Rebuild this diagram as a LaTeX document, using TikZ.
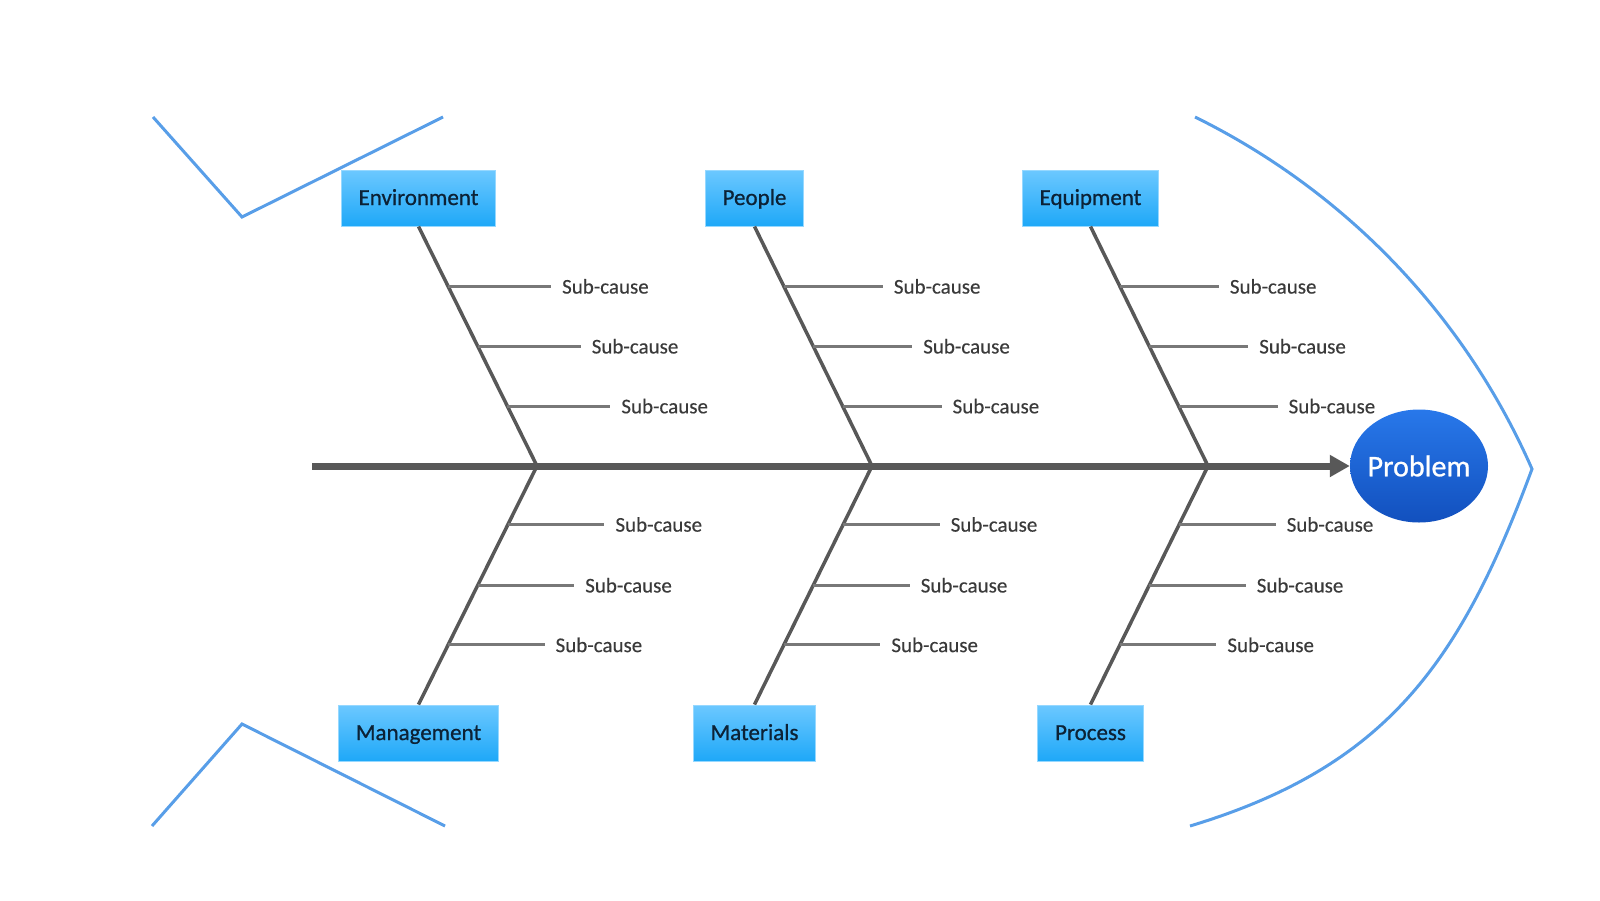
\documentclass[tikz,border=0pt]{standalone}
\usepackage{fontspec}
\setmainfont{Carlito}
\newfontfamily\catfont{Carlito}[FakeBold=0.8]
\newfontfamily\subfont{Carlito}[FakeBold=0.3]
\usetikzlibrary{arrows.meta,calc,shapes.geometric}
\definecolor{fishblue}{RGB}{88,158,232}
\definecolor{bonegray}{RGB}{88,88,88}
\definecolor{subgray}{RGB}{120,120,120}
\definecolor{subtext}{RGB}{58,58,58}
\definecolor{boxtop}{RGB}{108,200,255}
\definecolor{boxbot}{RGB}{30,168,248}
\definecolor{boxedge}{RGB}{150,216,255}
\definecolor{cattext}{RGB}{12,34,54}
\definecolor{probtop}{RGB}{40,120,234}
\definecolor{probbot}{RGB}{18,80,190}
\begin{document}
\begin{tikzpicture}[x=1pt,y=-1pt,
  fish/.style={draw=fishblue,line width=3pt,line join=miter},
  cat/.style={rectangle,draw=boxedge,line width=1pt,top color=boxtop,bottom color=boxbot,
    minimum height=56pt,inner xsep=17.5pt,text height=16pt,text depth=2pt,
    text=cattext,font=\catfont\fontsize{23}{26}\selectfont},
  probnode/.style={ellipse,top color=probtop,bottom color=probbot,minimum width=138pt,
    minimum height=113pt,inner sep=0pt},
  probtext/.style={text=white,inner sep=0pt,font=\catfont\fontsize{30}{34}\selectfont},
  spine/.style={draw=bonegray,line width=7pt,-{Triangle[length=20pt,width=21pt]}},
  bone/.style={draw=bonegray,line width=3.5pt},
  subline/.style={draw=subgray,line width=3pt},
  subtxt/.style={anchor=west,inner sep=0pt,outer xsep=11pt,text=subtext,
    font=\subfont\fontsize{21}{24}\selectfont}]
\useasboundingbox (0,0) rectangle (1600,900);

% fish outline
\draw[fish] (153,117) -- (242,217) -- (443,117);
\draw[fish] (152,826) -- (242,724) -- (445,826);
\draw[fish] (1195,117) .. controls (1345.2,191.1) and (1464.3,314.8) .. (1532,469)
  .. controls (1460.25,662.7) and (1386.8,766.55) .. (1190,826);

% head
\node[probnode,label={[probtext]center:Problem}] (prob) at (1419,466) {};

% spine
\coordinate (tail) at (312,466);
\coordinate (A1) at (537,466);
\coordinate (A2) at (872,466);
\coordinate (A3) at (1208,466);
\draw[spine] (tail) -- (prob.west);

% category boxes
\node[cat] (env) at (418.5,198) {Environment};
\node[cat] (peo) at (754.5,198) {People};
\node[cat] (equ) at (1090.5,198) {Equipment};
\node[cat] (mgm) at (418.5,733) {Management};
\node[cat] (mat) at (754.5,733) {Materials};
\node[cat] (pro) at (1090.5,733) {Process};

% bones
\draw[bone] (env.south) -- (A1) -- (mgm.north);
\draw[bone] (peo.south) -- (A2) -- (mat.north);
\draw[bone] (equ.south) -- (A3) -- (pro.north);

% upper sub-causes
\foreach \b/\t/\a/\len in {e/env/A1/103, p/peo/A2/99, q/equ/A3/99} {
  \foreach \i/\f in {1/0.25,2/0.5,3/0.75} {
    \coordinate (\b u\i) at ($(\t.south)!\f!(\a)$);
    \node[subtxt] (\b ut\i) at ($(\b u\i)+(\len,0)$) {Sub-cause};
    \draw[subline] (\b u\i) -- (\b ut\i.west);
  }
}
% lower sub-causes
\foreach \b/\t/\a/\len in {e/mgm/A1/96.5, p/mat/A2/96.5, q/pro/A3/96.5} {
  \foreach \i/\f in {1/0.245,2/0.5,3/0.75} {
    \coordinate (\b d\i) at ($(\a)!\f!(\t.north)$);
    \node[subtxt] (\b dt\i) at ($(\b d\i)+(\len,0)$) {Sub-cause};
    \draw[subline] (\b d\i) -- (\b dt\i.west);
  }
}
\end{tikzpicture}
\end{document}
